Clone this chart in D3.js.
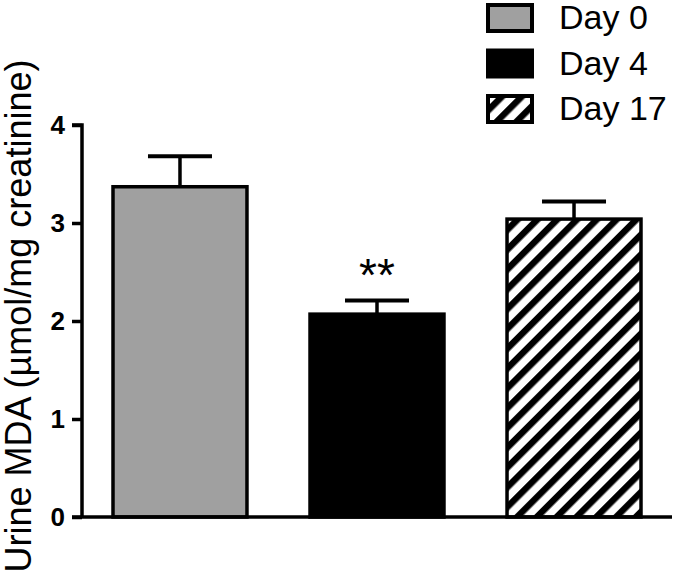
<!DOCTYPE html>
<html><head><meta charset="utf-8">
<script src="https://cdn.jsdelivr.net/npm/d3@7"></script>
<style>body{margin:0;background:#fff}svg{display:block}</style>
</head><body>
<script>
const categories = ["Day 0", "Day 4", "Day 17"];
const means = [3.37, 2.07, 3.04];
const errors = [0.31, 0.14, 0.18];
const yTicks = [0, 1, 2, 3, 4];
const annotations = ["", "**", ""];
const yLabel = "Urine MDA (\u00b5mol/mg creatinine)";

const W = 675, H = 584;
const svg = d3.select("body").append("svg").attr("width", W).attr("height", H);
const defs = svg.append("defs");
const pat = defs.append("pattern").attr("id", "hatch").attr("patternUnits", "userSpaceOnUse")
  .attr("width", 14).attr("height", 14).attr("patternTransform", "rotate(45)");
pat.append("rect").attr("width", 14).attr("height", 14).attr("fill", "#fff");
pat.append("line").attr("x1", 0).attr("y1", 0).attr("x2", 0).attr("y2", 14)
  .attr("stroke", "#000").attr("stroke-width", 13);
// line centred at x=0 spans -6.5..6.5, i.e. visible 0..6.5 and 7.5..14 -> ~half black
const fills = ["#a0a0a0", "#000", "url(#hatch)"];

const x0 = 82, x1 = 672, yTop = 125, yBot = 517;
const font = "Liberation Sans, Arial, sans-serif";
const y = d3.scaleLinear().domain([0, 4]).range([yBot, yTop]);
const x = d3.scaleBand().domain(categories).range([113, 641]).paddingInner(0.32).paddingOuter(0);

// bars
const g = svg.append("g");
categories.forEach((c, i) => {
  const bx = x(c), bw = x.bandwidth();
  const cx = bx + bw / 2;
  g.append("line").attr("x1", cx).attr("x2", cx).attr("y1", y(means[i])).attr("y2", y(means[i] + errors[i]))
    .attr("stroke", "#000").attr("stroke-width", 3.5);
  g.append("line").attr("x1", cx - 32).attr("x2", cx + 32).attr("y1", y(means[i] + errors[i])).attr("y2", y(means[i] + errors[i]))
    .attr("stroke", "#000").attr("stroke-width", 4);
  g.append("rect").attr("x", bx).attr("y", y(means[i])).attr("width", bw).attr("height", y(0) - y(means[i]))
    .attr("fill", fills[i]).attr("stroke", "#000").attr("stroke-width", 3.5);
  if (annotations[i]) {
    g.append("text").attr("x", cx).attr("y", y(means[i] + errors[i]) - 9).attr("text-anchor", "middle")
      .attr("font-family", font).attr("font-size", 46).text(annotations[i]);
  }
});

// axes
const yAxis = d3.axisLeft(y).tickValues(yTicks).tickSize(10).tickPadding(7).tickFormat(d3.format("d"));
const ya = svg.append("g").attr("transform", `translate(${x0},0)`).call(yAxis);
ya.select(".domain").attr("stroke-width", 3.5).attr("d", `M-10,${yTop}H0V${yBot}`);
ya.selectAll(".tick line").attr("stroke-width", 3.5);
ya.selectAll(".tick text").attr("font-family", font).attr("font-size", 26)
  .attr("font-weight", "bold").attr("fill", "#000");
svg.append("line").attr("x1", x0 - 10).attr("x2", x1).attr("y1", yBot).attr("y2", yBot)
  .attr("stroke", "#000").attr("stroke-width", 3.5);

// y label
svg.append("text").attr("transform", `translate(31,316) rotate(-90)`)
  .attr("text-anchor", "middle").attr("font-family", font)
  .attr("font-size", 36).text(yLabel);

// legend
const lg = svg.append("g");
categories.forEach((c, i) => {
  const ly = 5 + i * 45.5;
  lg.append("rect").attr("x", 488).attr("y", ly).attr("width", 44).attr("height", 26)
    .attr("fill", fills[i]).attr("stroke", "#000").attr("stroke-width", 4);
  lg.append("text").attr("x", 559).attr("y", ly + 24).attr("font-family", font)
    .attr("font-size", 34).text(c);
});
</script>
</body></html>
